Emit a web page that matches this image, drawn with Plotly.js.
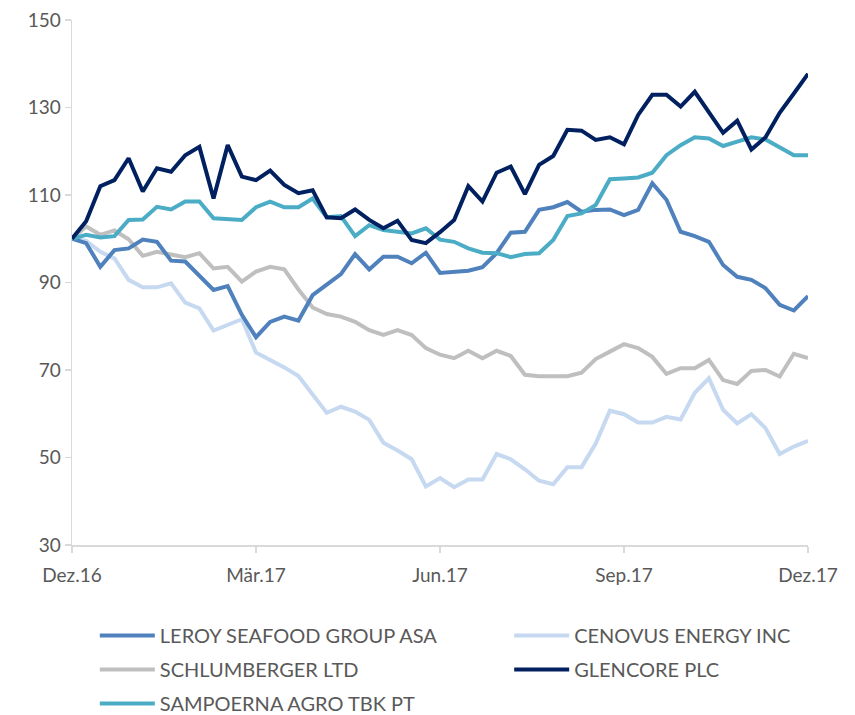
<!DOCTYPE html>
<html>
<head>
<meta charset="utf-8">
<script src="https://cdn.plot.ly/plotly-3.0.1.min.js"></script>
<style>html,body{margin:0;padding:0;background:#fff;}#chart{width:855px;height:715px;}</style>
</head>
<body>
<div id="chart"></div>
<script>
// weekly observations, Dec 2016 .. Dec 2017 (index 0..52)
const weeks = Array.from({length: 53}, (_, i) => i);
const tickWeeks = [0, 13, 26, 39, 52];
const tickLabels = ["Dez.16", "Mär.17", "Jun.17", "Sep.17", "Dez.17"];
const yTicks = [30, 50, 70, 90, 110, 130, 150];
const seriesNames = ["LEROY SEAFOOD GROUP ASA", "CENOVUS ENERGY INC", "SCHLUMBERGER LTD", "GLENCORE PLC", "SAMPOERNA AGRO TBK PT"];

const leroy = [100, 99, 93.6, 97.4, 97.8, 99.8, 99.3, 95, 94.8, 91.7, 88.3, 89.2, 82.6, 77.5, 81, 82.2, 81.3, 87.1, 89.4, 91.9,
  96.5, 93, 95.9, 95.9, 94.4, 96.8, 92.2, 92.5, 92.7, 93.5, 96.7, 101.4, 101.6, 106.6, 107.2, 108.4, 106.2, 106.6, 106.7, 105.4,
  106.6, 112.7, 108.9, 101.6, 100.6, 99.3, 94, 91.3, 90.6, 88.7, 84.9, 83.6, 86.9];
const cenovus = [100, 99.5, 97, 95.5, 90.6, 88.9, 88.9, 89.8, 85.4, 84.1, 79, 80.3, 81.6, 74, 72.3, 70.6, 68.6, 64.3, 60.2, 61.6,
  60.5, 58.6, 53.4, 51.6, 49.6, 43.4, 45.3, 43.2, 45, 45, 50.8, 49.6, 47.3, 44.7, 43.9, 47.8, 47.8, 53.2, 60.7, 59.9,
  58, 58, 59.3, 58.7, 64.8, 68.1, 60.9, 57.8, 59.9, 56.7, 50.8, 52.5, 53.8];
const schlumberger = [100, 102.8, 100.9, 101.9, 99.9, 96.1, 97, 96.3, 95.8, 96.7, 93.2, 93.6, 90.2, 92.5, 93.6, 93, 88.4, 84.3, 82.8, 82.2,
  81, 79.1, 78, 79.1, 78, 75, 73.5, 72.7, 74.4, 72.7, 74.4, 73.2, 68.9, 68.6, 68.5, 68.6, 69.4, 72.5, 74.2, 75.9,
  75, 73, 69.1, 70.4, 70.4, 72.3, 67.7, 66.8, 69.8, 70, 68.5, 73.7, 72.7];
const glencore = [100, 104, 112, 113.4, 118.4, 110.8, 116.1, 115.3, 119.1, 121, 109.2, 121.4, 114.2, 113.4, 115.6, 112.3, 110.4, 111.1, 104.9, 104.7,
  106.7, 104.3, 102.4, 104.1, 99.7, 99, 101.5, 104.3, 112, 108.5, 115.1, 116.5, 110.2, 116.9, 118.9, 124.9, 124.7, 122.6, 123.2, 121.6,
  128.3, 132.9, 132.9, 130.2, 133.6, 129, 124.2, 127, 120.4, 123.2, 128.8, 133.2, 137.7];
const sampoerna = [100, 100.9, 100.3, 100.6, 104.3, 104.4, 107.3, 106.7, 108.5, 108.5, 104.7, 104.4, 104.3, 107.2, 108.5, 107.2, 107.2, 109.2, 104.9, 105.2,
  100.6, 103.1, 102, 101.6, 101.2, 102.4, 99.8, 99.3, 97.8, 96.8, 96.7, 95.8, 96.5, 96.7, 99.7, 105.2, 105.8, 107.7, 113.6, 113.8,
  114, 115.1, 119.1, 121.4, 123.2, 122.9, 121.2, 122.2, 123.2, 122.7, 121, 119.1, 119.1];

const colors = ["#4f81bd", "#c6d9f1", "#bfbfbf", "#002060", "#4bacc6"];
const values = [leroy, cenovus, schlumberger, glencore, sampoerna];
// legend column for each series (left column: legend, right column: legend2)
const legendColumn = ["legend", "legend2", "legend", "legend2", "legend"];
// draw order: lighter lines first so darker lines stay on top
const drawOrder = [1, 2, 0, 4, 3];

const FONT = "Lato, 'Open Sans', sans-serif";
const TXT = "#595959";

const traces = drawOrder.map(k => ({
  x: weeks, y: values[k], name: seriesNames[k], type: "scatter", mode: "lines",
  line: {color: colors[k], width: 4}, legend: legendColumn[k], legendgroup: "g" + k,
  legendrank: k + 1, hoverinfo: "skip"
}));

const legendBase = {
  orientation: "v", xanchor: "left", yanchor: "top", y: -0.1352,
  itemwidth: 55, tracegroupgap: 5, traceorder: "grouped", bgcolor: "rgba(0,0,0,0)",
  font: {size: 20, color: TXT, family: FONT}
};

const layout = {
  width: 855, height: 715,
  margin: {l: 72, r: 47, t: 20, b: 170, autoexpand: false},
  paper_bgcolor: "#fff", plot_bgcolor: "#fff",
  font: {family: FONT, color: TXT, size: 19},
  showlegend: true,
  xaxis: {
    range: [0, 52], tickvals: tickWeeks, ticktext: tickLabels,
    showgrid: false, zeroline: false, showline: true, linecolor: "#d9d9d9", linewidth: 1.5,
    ticks: "outside", ticklen: 6, tickcolor: "#d9d9d9", tickwidth: 1.5, ticklabelstandoff: 7,
    tickfont: {size: 19, color: TXT, family: FONT}
  },
  yaxis: {
    range: [30, 150], tickvals: yTicks,
    showgrid: false, zeroline: false, showline: true, linecolor: "#d9d9d9", linewidth: 1.5,
    ticks: "outside", ticklen: 6, tickcolor: "#d9d9d9", tickwidth: 1.5,
    tickfont: {size: 19, color: TXT, family: FONT}
  },
  legend: Object.assign({}, legendBase, {x: 0.031}),
  legend2: Object.assign({}, legendBase, {x: 0.594})
};

Plotly.newPlot("chart", traces, layout, {displayModeBar: false, staticPlot: true});
</script>
</body>
</html>
